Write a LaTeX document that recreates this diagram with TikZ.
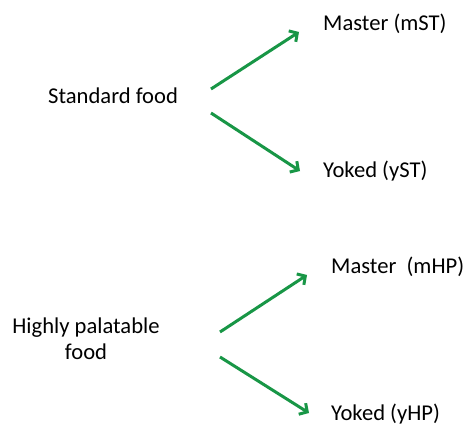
\documentclass[tikz,border=0pt]{standalone}
\usepackage{fontspec}
\setmainfont{Carlito}
\usetikzlibrary{arrows.meta}
\definecolor{arrowgreen}{RGB}{24,150,70}
\begin{document}
\begin{tikzpicture}[x=1pt,y=-1pt,
  lbl/.style={inner sep=0pt,anchor=base west,font=\fontsize{22.6}{26}\selectfont},
  conn/.style={arrowgreen,line width=3pt,-{Straight Barb[length=6pt,width=13pt,line width=3pt]}}]
\useasboundingbox (0,0) rectangle (469,425);
\node[lbl] (std) at (48,104) {Standard food};
\node[lbl] (mst) at (323,31) {Master (mST)};
\node[lbl] (yst) at (323,178) {Yoked (yST)};
\node[inner sep=0pt,align=center,font=\fontsize{22.6}{26}\selectfont] (hp) at (86,339) {Highly palatable\\food};
\node[lbl] (mhp) at (331,273) {Master\ \ (mHP)};
\node[lbl] (yhp) at (331,420) {Yoked (yHP)};
\coordinate (s1) at (211,89);
\coordinate (e1) at (299,32);
\coordinate (s2) at (211,113);
\coordinate (e2) at (300,171);
\coordinate (s3) at (220,332);
\coordinate (e3) at (307,275);
\coordinate (s4) at (220,357);
\coordinate (e4) at (309,413);
\draw[conn] (s1) -- (e1);
\draw[conn] (s2) -- (e2);
\draw[conn] (s3) -- (e3);
\draw[conn] (s4) -- (e4);
\end{tikzpicture}
\end{document}
